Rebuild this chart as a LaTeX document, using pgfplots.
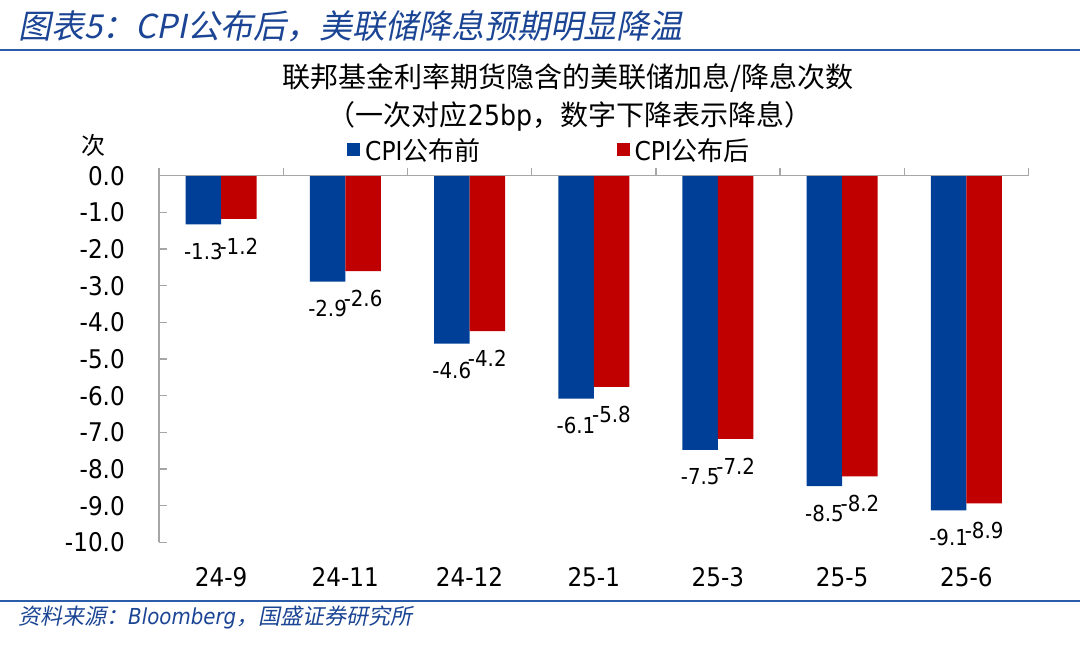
\documentclass[border=0pt]{standalone}
\usepackage{pgfplots}
\pgfplotsset{compat=1.18}
\usepackage{pgfplotstable}
\usepackage{fontspec}
\setmainfont{DejaVu Sans}[FakeStretch=0.9]
\newfontfamily\cjk{Noto Sans CJK SC}
\newfontfamily\cjkit{Noto Sans CJK SC}[FakeSlant=0.2]
\definecolor{barblue}{HTML}{003F98}
\definecolor{barred}{HTML}{C00000}
\definecolor{titleblue}{HTML}{1B4594}
\definecolor{rulecol}{HTML}{2A5CAA}
\definecolor{axisgray}{HTML}{A6A6A6}

\pgfplotstableread{
x blue red
0 -1.33 -1.18
1 -2.89 -2.60
2 -4.58 -4.24
3 -6.08 -5.76
4 -7.48 -7.18
5 -8.47 -8.20
6 -9.13 -8.94
}\rates

\begin{document}
\begin{tikzpicture}
\useasboundingbox (0pt,0pt) rectangle (1080pt,-648pt);
\draw[rulecol, line width=2pt] (0pt,-49.5pt) -- (1080pt,-49.5pt);
\draw[rulecol, line width=2pt] (0pt,-600.7pt) -- (1080pt,-600.7pt);
\node[anchor=west, inner sep=0pt, text=titleblue] at (18pt,-26pt)
  {\fontsize{33pt}{33pt}\selectfont\cjkit 图表5：CPI公布后，美联储降息预期明显降温};
\node[anchor=west, inner sep=0pt, text=titleblue] at (18pt,-617pt)
  {\fontsize{22pt}{22pt}\selectfont{\cjkit 资料来源：}{\itshape Bloomberg}{\cjkit ，国盛证券研究所}};
\node[inner sep=0pt] at (568pt,-78pt)
  {\fontsize{28pt}{28pt}\selectfont\cjk 联邦基金利率期货隐含的美联储加息/降息次数};
\node[inner sep=0pt] at (570pt,-116pt)
  {\fontsize{28pt}{28pt}\selectfont{\cjk （一次对应}25bp{\cjk ，数字下降表示降息）}};
\node[inner sep=0pt] at (93pt,-145pt) {\fontsize{24pt}{24pt}\selectfont\cjk 次};

\begin{axis}[
  at={(159pt,-542.3pt)}, anchor=south west,
  scale only axis, width=869.5pt, height=366.6pt,
  xmin=-0.5, xmax=6.5, ymin=-10, ymax=0,
  clip=false,
  axis line style={draw=none},
  ybar=0pt, bar width=35.5pt,
  xtick={0,...,6},
  xticklabels={24-9,24-11,24-12,25-1,25-3,25-5,25-6},
  x tick style={draw=none},
  xticklabel style={font=\fontsize{25.7pt}{25.7pt}\selectfont, inner sep=0pt, anchor=north, yshift=-17.3pt},
  ytick={-10,-9,...,0},
  ytick pos=left, ytick align=inside,
  y tick style={axisgray, line width=1.2pt},
  major tick length=8pt,
  yticklabel style={font=\fontsize{25.7pt}{25.7pt}\selectfont, inner sep=0pt, anchor=east, xshift=-34pt},
  /pgf/number format/.cd, fixed, fixed zerofill, precision=1, assume math mode=true, /pgfplots/.cd,
  nodes near coords,
  nodes near coords style={font=\fontsize{22pt}{22pt}\selectfont, inner sep=0pt, anchor=north, yshift=-18.7pt, text=black},
  legend columns=2,
  legend image code/.code={\fill[#1] (0pt,-6.5pt) rectangle (13pt,6.5pt);},
  legend style={draw=none, fill=none, at={(0.2162,1.0704)}, anchor=west, inner sep=0pt,
    nodes={inner sep=0pt, font=\fontsize{26pt}{26pt}\selectfont},
    /tikz/every odd column/.append style={column sep=5pt},
    /tikz/every even column/.append style={column sep=136pt}},
]
\addplot[fill=barblue, draw=none] table[x=x, y=blue] {\rates};
\addlegendentry{CPI{\cjk 公布前}}
\addplot[fill=barred, draw=none] table[x=x, y=red] {\rates};
\addlegendentry{CPI{\cjk 公布后}}
\draw[axisgray, line width=1.3pt] (rel axis cs:0,0) -- ([yshift=8pt]rel axis cs:0,1);
\draw[axisgray, line width=1.3pt] (rel axis cs:0,1) -- (rel axis cs:1,1);
\pgfplotsinvokeforeach{0.5,1.5,2.5,3.5,4.5,5.5,6.5}{
  \draw[axisgray, line width=1.3pt] (axis cs:#1,0) -- ([yshift=8pt]axis cs:#1,0);
}
\end{axis}
\end{tikzpicture}
\end{document}
